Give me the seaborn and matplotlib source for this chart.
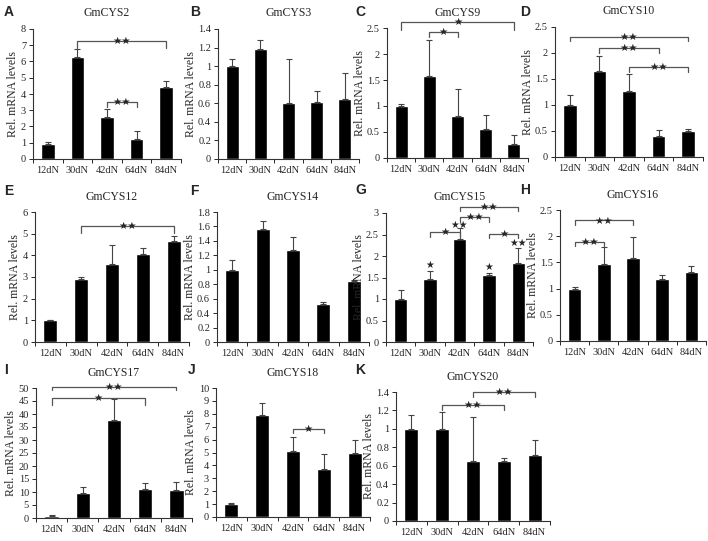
import numpy as np
import matplotlib
matplotlib.use('Agg')
import matplotlib.pyplot as plt
from matplotlib.ticker import FormatStrFormatter, FixedLocator
import seaborn as sns

sns.set_style('ticks')
plt.rcParams['font.family'] = ['Liberation Serif', 'DejaVu Serif']

#天数（横轴类别）
days = ['12dN', '30dN', '42dN', '64dN', '84dN']

#各基因的相对表达量和误差
cys2 = [0.95, 6.3, 2.6, 1.2, 4.45]
cys2_err = [0.1, 0.5, 0.5, 0.55, 0.32]
cys3 = [1.0, 1.18, 0.6, 0.61, 0.65]
cys3_err = [0.08, 0.1, 0.48, 0.12, 0.28]
cys9 = [1.0, 1.57, 0.8, 0.55, 0.27]
cys9_err = [0.03, 0.7, 0.53, 0.28, 0.18]
cys10 = [1.0, 1.65, 1.27, 0.4, 0.5]
cys10_err = [0.2, 0.3, 0.33, 0.12, 0.04]
cys12 = [1.0, 2.9, 3.62, 4.05, 4.65]
cys12_err = [0.02, 0.1, 0.85, 0.28, 0.25]
cys14 = [1.0, 1.57, 1.28, 0.53, 0.85]
cys14_err = [0.13, 0.1, 0.17, 0.02, 0.01]
cys15 = [1.0, 1.46, 2.4, 1.55, 1.84]
cys15_err = [0.2, 0.2, 0.25, 0.05, 0.35]
cys16 = [1.0, 1.47, 1.59, 1.19, 1.32]
cys16_err = [0.03, 0.32, 0.4, 0.07, 0.12]
cys17 = [0.8, 9.8, 37.8, 11.3, 10.9]
cys17_err = [0.3, 2.2, 8.0, 2.2, 3.0]
cys18 = [1.0, 7.9, 5.1, 3.75, 4.95]
cys18_err = [0.05, 0.9, 1.1, 1.1, 1.05]
cys20 = [1.0, 1.0, 0.655, 0.65, 0.715]
cys20_err = [0.15, 0.18, 0.47, 0.03, 0.16]

#显著性标记：(起点, 终点, 横线高度, 竖线底部, 星号)
sig2 = [(1, 4, 7.24, 6.85, '★★'), (2, 3, 3.5, 3.2, '★★')]
sig9 = [(0, 4, 2.61, 2.47, '★'), (1, 2, 2.42, 2.33, '★')]
sig10 = [(0, 4, 2.3, 2.24, '★★'), (1, 3, 2.09, 2.0, '★★'), (2, 4, 1.74, 1.64, '★★')]
sig12 = [(1, 4, 5.34, 5.03, '★★')]
sig15 = [(1, 2, 2.56, 2.45, '★'), (2, 4, 3.15, 3.04, '★★'),
         (2, 3, 2.9, 2.8, '★★'), (3, 4, 2.51, 2.42, '★')]
sig15_bar = [(1, 1.8, '★'), (2, 2.72, '★★'), (3, 1.75, '★'), (4, 2.3, '★★')]
sig16 = [(0, 2, 2.3, 2.21, '★★'), (0, 1, 1.89, 1.82, '★★')]
sig17 = [(0, 4, 50.4, 49.1, '★★'), (0, 3, 46.2, 43.3, '★')]
sig18 = [(2, 3, 6.81, 6.48, '★')]
sig20 = [(1, 3, 1.26, 1.2, '★★'), (2, 4, 1.4, 1.35, '★★')]

#每个子图：字母, 标题, 数据, 误差, y上限, y刻度间隔, 显著性
panels = [
    ('A', 'GmCYS2', cys2, cys2_err, 8, 1, sig2),
    ('B', 'GmCYS3', cys3, cys3_err, 1.4, 0.2, []),
    ('C', 'GmCYS9', cys9, cys9_err, 2.5, 0.5, sig9),
    ('D', 'GmCYS10', cys10, cys10_err, 2.5, 0.5, sig10),
    ('E', 'GmCYS12', cys12, cys12_err, 6, 1, sig12),
    ('F', 'GmCYS14', cys14, cys14_err, 1.8, 0.2, []),
    ('G', 'GmCYS15', cys15, cys15_err, 3, 0.5, sig15),
    ('H', 'GmCYS16', cys16, cys16_err, 2.5, 0.5, sig16),
    ('I', 'GmCYS17', cys17, cys17_err, 50, 5, sig17),
    ('J', 'GmCYS18', cys18, cys18_err, 10, 1, sig18),
    ('K', 'GmCYS20', cys20, cys20_err, 1.4, 0.2, sig20),
]

#子图位置（像素）：左, 下, 宽, 高 ；字母位置
W, H = 708, 541
boxes = [(33, 159, 148, 130), (218, 159, 141, 130), (387, 158, 141, 130), (555, 157, 148, 130),
         (35, 342, 154, 130), (217, 342, 152, 130), (386, 342, 147, 129), (560, 341, 146, 131),
         (36, 518, 156, 130), (216, 517, 154, 129), (396, 521, 154, 129)]
letters = [(4, 12), (190, 12), (355, 12), (520, 12),
           (4, 191), (190, 191), (355, 190), (520, 190),
           (4, 370), (188, 370), (355, 370)]

fig = plt.figure(figsize=(W / 100, H / 100), dpi=100)

for (lab, title, vals, err, ymax, step, sig), box, pos in zip(panels, boxes, letters):
    l, b, w, h = box
    ax = fig.add_axes([l / W, 1 - b / H, w / W, h / H])
    sns.barplot(x=days, y=vals, color='black', width=0.46, saturation=1,
                errorbar=None, ax=ax)
    ax.errorbar(range(5), vals, yerr=[np.zeros(5), err], fmt='none',
                ecolor='#444444', elinewidth=0.8, capsize=2.2, capthick=0.8)
    ax.set_xlim(-0.5, 4.5)
    ax.set_ylim(0, ymax)
    ax.set_yticks(np.arange(0, ymax + step / 2, step))
    ax.yaxis.set_major_formatter(FormatStrFormatter('%g'))
    ax.xaxis.set_minor_locator(FixedLocator(np.arange(-0.5, 5, 1)))
    ax.tick_params(axis='x', which='major', length=0, labelsize=7.5, pad=5)
    ax.tick_params(axis='x', which='minor', length=3, width=0.7, direction='out')
    ax.tick_params(axis='y', length=3, width=0.7, labelsize=7.5, pad=2)
    sns.despine(ax=ax)
    for s in ['left', 'bottom']:
        ax.spines[s].set_linewidth(0.8)
        ax.spines[s].set_color('#333333')
    ax.set_xlabel('')
    ax.set_ylabel('Rel. mRNA levels', fontsize=8.5, labelpad=1)
    ax.set_title(title, fontsize=8.5, pad=9)

    #显著性括号
    for i, j, y, y0, star in sig:
        ax.plot([i, i, j, j], [y0, y, y, y0], color='#555555', lw=0.9, clip_on=False)
        ax.text((i + j) / 2, y, star, ha='center', va='center', fontsize=7.5,
                family=['DejaVu Sans'], clip_on=False)
    if lab == 'G':
        for i, y, star in sig15_bar:
            ax.text(i, y, star, ha='center', va='center', fontsize=7,
                    family=['DejaVu Sans'])

    fig.text(pos[0] / W, 1 - pos[1] / H, lab, fontsize=10, fontweight='bold',
             family=['Liberation Sans'], ha='left', va='center')

fig.savefig('out.png', dpi=100)
